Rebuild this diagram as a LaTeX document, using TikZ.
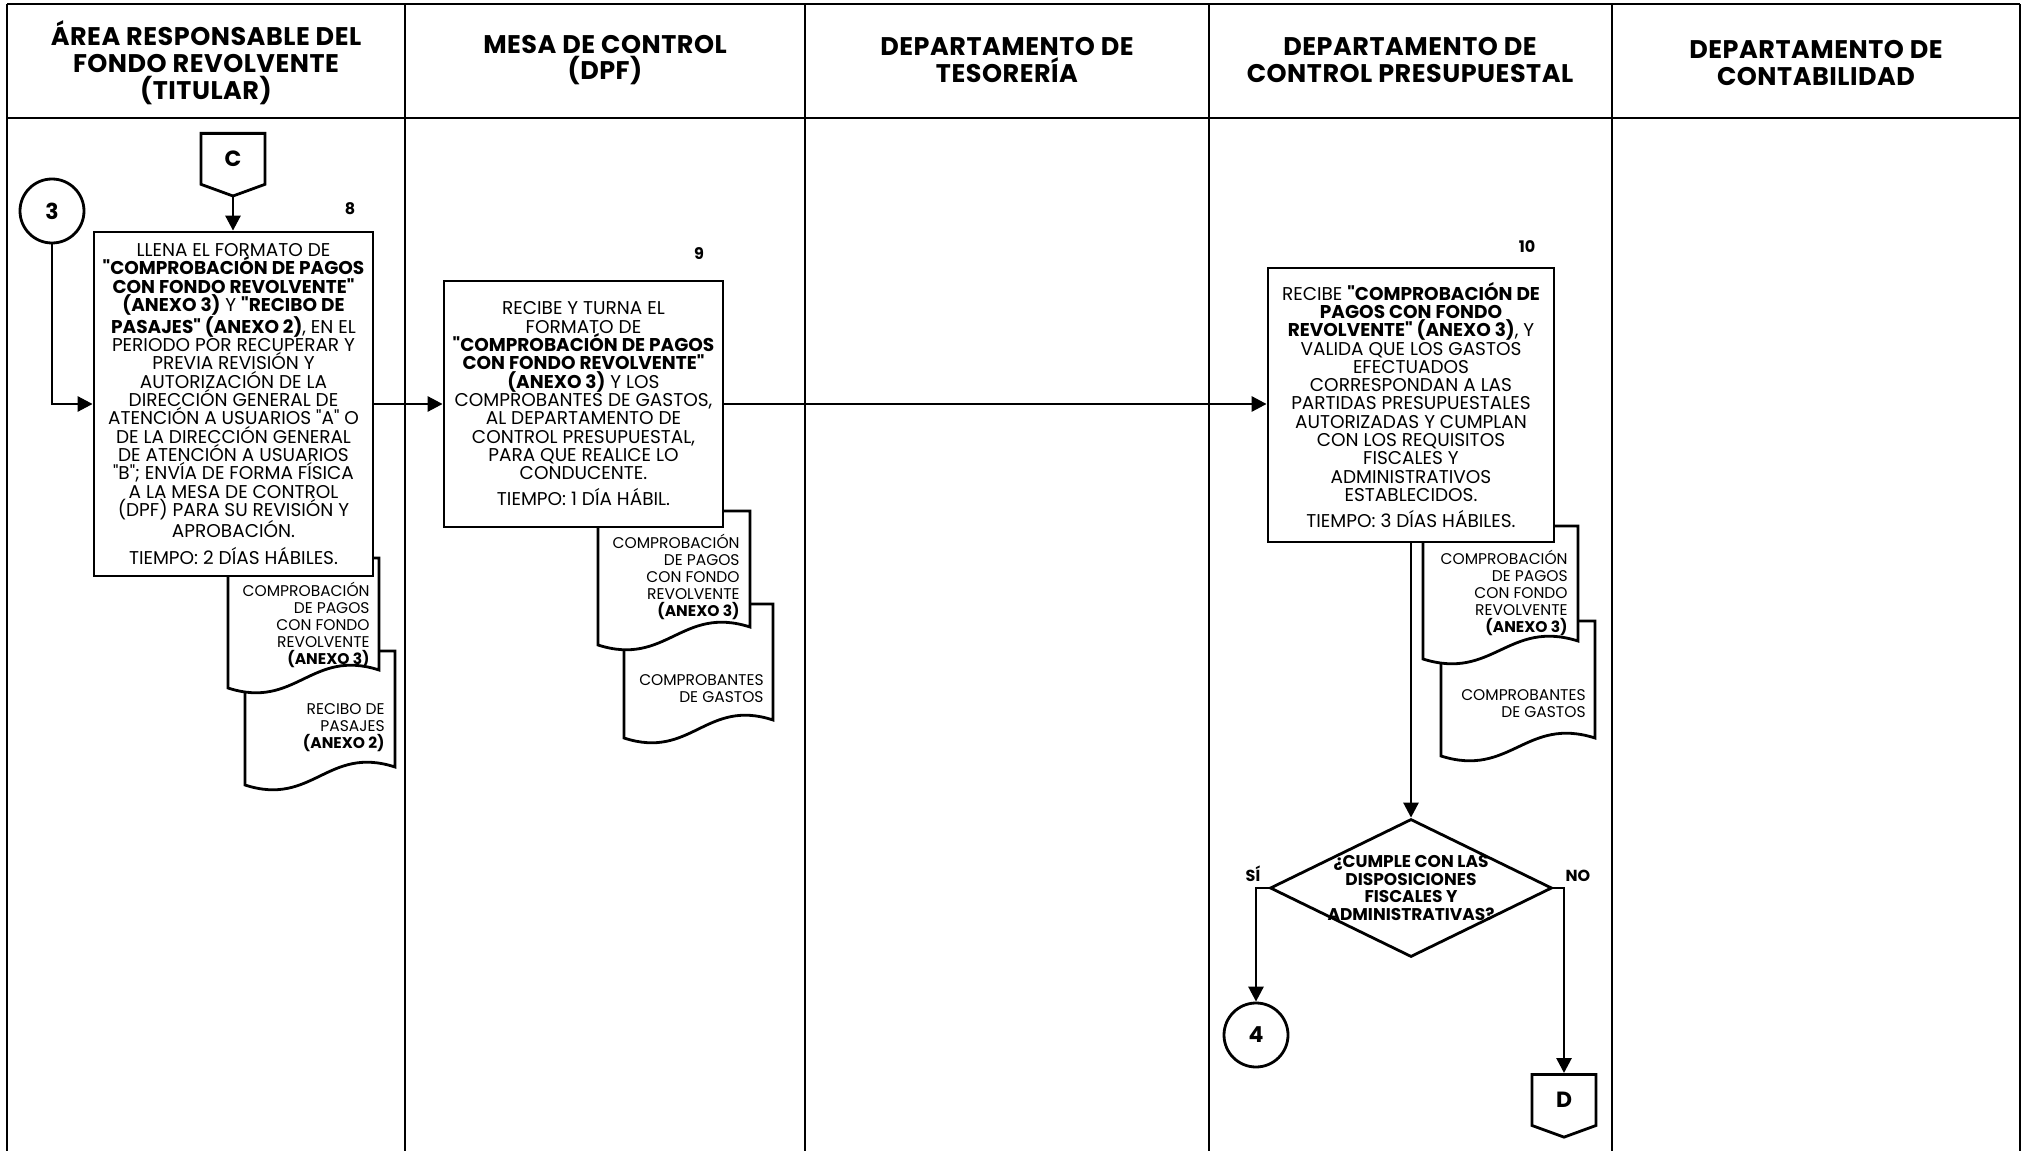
\documentclass[tikz,border=0pt]{standalone}
\usepackage{fontspec}
\setmainfont{Poppins}[Ligatures=TeXOff]
\usetikzlibrary{arrows.meta,shapes.geometric,shapes.symbols}

\newcommand{\docpath}[4]{%
  \filldraw[fill=white] ({#1},{#3}) -- ({#2},{#3}) -- ({#2},{#4-18})
    .. controls ({#2-0.45*(#2-#1)},{#4-40}) and ({#1+0.45*(#2-#1)},{#4+22}) .. ({#1},{#4}) -- cycle;}

\begin{document}
\begin{tikzpicture}[
    x=1pt, y=-1pt,
    line width=2.8pt,
    head/.style = {font=\bfseries\fontsize{25.5}{26.8}\selectfont\addfontfeatures{LetterSpace=2}, align=center, inner sep=0pt},
    proc/.style = {draw, fill=white, inner sep=0pt, align=center, font=\fontsize{18.5}{18.3}\selectfont},
    doctext/.style = {align=right, inner sep=0pt, font=\fontsize{15.5}{17}\selectfont},
    conn/.style = {draw, fill=white, circle, minimum size=64pt, inner sep=0pt, font=\bfseries\fontsize{22}{22}\selectfont},
    offpage/.style = {draw, fill=white, shape=signal, signal to=south, signal from=nowhere, signal pointer angle=140,
                      minimum width=64pt, minimum height=54pt, inner sep=0pt, font=\bfseries\fontsize{22}{22}\selectfont},
    decision/.style = {draw, fill=white, diamond, minimum width=282pt, minimum height=138pt, inner sep=0pt},
    tag/.style = {font=\bfseries\fontsize{16}{18}\selectfont, align=center, inner sep=0pt},
    flow/.style = {-{Triangle[length=15pt,width=15pt]}}
  ]
  \fill[white] (0,0) rectangle (2026,1151);
  \draw (7,4) -- (2020,4);
  \draw (7,118) -- (2020,118);
  \foreach \x in {7,405,805,1209,1612,2020}
    \draw (\x,4) -- (\x,1151);

  \node[head] (h1) at (206,63) {ÁREA RESPONSABLE DEL\\FONDO REVOLVENTE\\(TITULAR)};
  \node[head] (h2) at (605,60) {MESA DE CONTROL\\(DPF)};
  \node[head] (h3) at (1007,60) {DEPARTAMENTO DE\\TESORERÍA};
  \node[head] (h4) at (1410,60) {DEPARTAMENTO DE\\CONTROL PRESUPUESTAL};
  \node[head] (h5) at (1816,63) {DEPARTAMENTO DE\\CONTABILIDAD};

  \docpath{245}{395}{651}{785}
  \docpath{228}{379}{558}{688}
  \docpath{624}{773}{604}{738}
  \docpath{598}{750}{511}{645}
  \docpath{1441}{1595}{621}{756}
  \docpath{1423}{1578}{526}{659}

  \node[doctext, anchor=east] (d8b) at (386,728) {RECIBO DE\\PASAJES\\\textbf{(ANEXO 2)}};
  \node[doctext, anchor=east] (d8a) at (371,625) {COMPROBACIÓN\\DE PAGOS\\CON FONDO\\REVOLVENTE\\\textbf{(ANEXO 3)}};
  \node[doctext, anchor=east] (d9b) at (765,689) {COMPROBANTES\\DE GASTOS};
  \node[doctext, anchor=east] (d9a) at (741,577) {COMPROBACIÓN\\DE PAGOS\\CON FONDO\\REVOLVENTE\\\textbf{(ANEXO 3)}};
  \node[doctext, anchor=east] (d10b) at (1587,704) {COMPROBANTES\\DE GASTOS};
  \node[doctext, anchor=east] (d10a) at (1569,593) {COMPROBACIÓN\\DE PAGOS\\CON FONDO\\REVOLVENTE\\\textbf{(ANEXO 3)}};

  \node[conn] (con3) at (52,211) {3};
  \node[offpage, anchor=north] (conC) at (233,132) {C};
  \node[tag] (n8) at (350,209) {8};
  \node[proc, minimum width=279pt, minimum height=344pt] (box8) at (233.5,404) {LLENA EL FORMATO DE\\
    \textbf{"COMPROBACIÓN DE PAGOS}\\
    \textbf{CON FONDO REVOLVENTE"}\\
    \textbf{(ANEXO 3)} Y \textbf{"RECIBO DE}\\
    \textbf{PASAJES" (ANEXO 2)}, EN EL\\
    PERIODO POR RECUPERAR Y\\
    PREVIA REVISIÓN Y\\
    AUTORIZACIÓN DE LA\\
    DIRECCIÓN GENERAL DE\\
    ATENCIÓN A USUARIOS "A" O\\
    DE LA DIRECCIÓN GENERAL\\
    DE ATENCIÓN A USUARIOS\\
    "B"; ENVÍA DE FORMA FÍSICA\\
    A LA MESA DE CONTROL\\
    (DPF) PARA SU REVISIÓN Y\\
    APROBACIÓN.\\[8pt]
    TIEMPO: 2 DÍAS HÁBILES.};

  \node[tag] (n9) at (699,254) {9};
  \node[proc, minimum width=279pt, minimum height=246pt] (box9) at (583.5,404) {RECIBE Y TURNA EL\\
    FORMATO DE\\
    \textbf{"COMPROBACIÓN DE PAGOS}\\
    \textbf{CON FONDO REVOLVENTE"}\\
    \textbf{(ANEXO 3)} Y LOS\\
    COMPROBANTES DE GASTOS,\\
    AL DEPARTAMENTO DE\\
    CONTROL PRESUPUESTAL,\\
    PARA QUE REALICE LO\\
    CONDUCENTE.\\[8pt]
    TIEMPO: 1 DÍA HÁBIL.};

  \node[tag] (n10) at (1527,247) {10};
  \node[proc, minimum width=286pt, minimum height=274pt] (box10) at (1411,405) {RECIBE \textbf{"COMPROBACIÓN DE}\\
    \textbf{PAGOS CON FONDO}\\
    \textbf{REVOLVENTE" (ANEXO 3)}, Y\\
    VALIDA QUE LOS GASTOS\\
    EFECTUADOS\\
    CORRESPONDAN A LAS\\
    PARTIDAS PRESUPUESTALES\\
    AUTORIZADAS Y CUMPLAN\\
    CON LOS REQUISITOS\\
    FISCALES Y\\
    ADMINISTRATIVOS\\
    ESTABLECIDOS.\\[8pt]
    TIEMPO: 3 DÍAS HÁBILES.};

  \node[decision] (dec) at (1411,888) {};
  \node[tag, font=\bfseries\fontsize{17}{17.5}\selectfont] (decq) at (dec) {¿CUMPLE CON LAS\\DISPOSICIONES\\FISCALES Y\\ADMINISTRATIVAS?};
  \node[tag] (si) at (1253,874) {SÍ};
  \node[tag] (no) at (1578,876) {NO};
  \node[conn] (con4) at (1256,1035) {4};
  \node[offpage, anchor=north] (conD) at (1564,1073) {D};

  \draw[flow] (conC.south) -- (conC.south |- box8.north);
  \draw[flow] (con3.south) |- (box8.west);
  \draw[flow] (box8.east) -- (box8.east -| box9.west);
  \draw[flow] (box9.east) -- (box9.east -| box10.west);
  \draw[flow] (box10.south) -- (dec.north);
  \draw[flow] (dec.west) -| (con4.north);
  \draw[flow] (dec.east) -| (conD.north);
\end{tikzpicture}
\end{document}
